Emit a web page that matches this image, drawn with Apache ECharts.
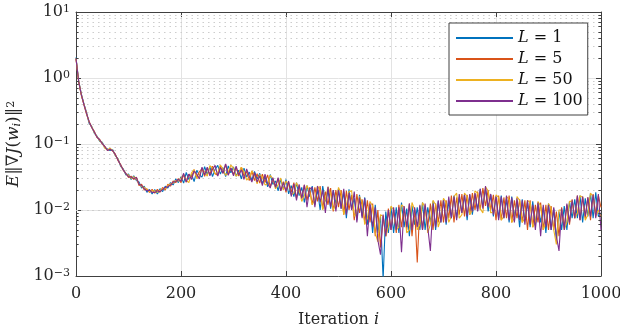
<!DOCTYPE html>
<html>
<head>
<meta charset="utf-8">
<script src="https://cdn.jsdelivr.net/npm/echarts@6/dist/echarts.min.js"></script>
<style>
  html, body { margin: 0; padding: 0; background: #fff; }
  #chart { width: 620px; height: 328px; }
</style>
</head>
<body>
<div id="chart"></div>
<script>
// sample positions: every 5th iteration, 0..1000
const iterations = Array.from({ length: 201 }, (_, k) => k * 5);

// E||grad J(w_i)||^2, in units of 1e-3
const L1 = [
  2050, 920, 580, 410, 300, 205, 185, 145, 132, 110,
  106, 88, 84, 80, 82, 66, 60, 46, 42, 34,
  35, 29, 33, 28, 26.5, 21.5, 23, 18.5, 20.5, 17.5,
  20.5, 17.5, 21, 19, 23, 21.5, 26, 24, 29.5, 26,
  32, 25.5, 37, 29, 34.5, 27, 40, 34, 31.5, 45.5,
  34.5, 45, 32, 41.5, 47.5, 35, 44, 32, 46.5, 36.5,
  45, 32.5, 40, 29.5, 43, 31.5, 37.5, 28, 38.5, 29.5,
  36, 25, 32, 22.5, 34.5, 24.5, 27.5, 19.5, 29.5, 20.5,
  29, 17.5, 23.5, 16, 26, 16.5, 22, 13, 23.5, 16,
  23, 12, 20.5, 10, 23, 13.5, 20, 10.5, 20, 12.5,
  21, 10.5, 19, 7.5, 20.5, 10.5, 15, 7, 17, 8,
  15.5, 6, 12, 4.5, 12, 4.5, 8, 0.9, 9.5, 4.5,
  11, 4.5, 11, 4.5, 13, 5.5, 10.5, 4, 11.5, 6,
  11, 5, 13, 5, 11, 6.5, 13.5, 5, 13.5, 6.5,
  14.5, 6, 13.5, 7.5, 16.5, 7.5, 15.5, 9, 17, 7,
  17, 8.5, 17.5, 10, 21, 11, 21, 9.5, 17, 8,
  16, 7.5, 16.5, 7.5, 14.5, 6.5, 16, 8, 14, 5.5,
  14.5, 7, 13, 5.5, 13.5, 6, 12.5, 6.5, 11, 4.5,
  12.5, 5, 10.5, 3.5, 9.5, 5, 11.5, 5, 13.5, 7.5,
  14.5, 7.5, 16.5, 6.5, 15, 8, 18, 7.5, 18.5, 8,
  9
];
const L5 = [
  1950, 880, 550, 395, 285, 220, 176, 155, 125, 118,
  100, 92, 80, 84, 78, 70, 56, 49, 40, 36,
  31, 32.5, 29, 31.5, 23.5, 24.5, 20, 21, 18.5, 20.5,
  18, 20.5, 18.5, 22, 20, 24.5, 23, 27.5, 26, 30,
  26, 34.5, 26.5, 35, 31.5, 41, 31, 38, 42.5, 32.5,
  43, 34.5, 46, 35.5, 33.5, 46, 36, 49, 34, 43.5,
  34.5, 44.5, 32.5, 44.5, 32.5, 38.5, 28, 39, 28, 35.5,
  25.5, 35, 26, 34, 22.5, 29.5, 23, 30, 19.5, 27,
  18.5, 26.5, 18.5, 26, 15, 23.5, 15, 24, 14, 22,
  12, 22, 13.5, 23, 10.5, 19, 12, 21.5, 9.5, 20,
  11, 20, 8.5, 19.5, 10, 17, 7, 17.5, 9, 14.5,
  6.5, 14, 6.5, 12.5, 4, 10, 2.7, 8, 4, 10.5,
  5, 10, 4.5, 12, 5.5, 11, 5, 12.5, 4, 10.5,
  1.6, 11.5, 5, 11.5, 5.5, 12.5, 5, 12.5, 6.5, 14,
  6.5, 14, 7.5, 16.5, 6.5, 15.5, 8.5, 17.5, 8, 17,
  8.5, 18, 10, 19, 10, 21.5, 11.5, 20, 10, 17,
  7, 16.5, 7, 15.5, 7.5, 16.5, 6.5, 14, 7.5, 14.5,
  6.5, 14, 5, 14, 5.5, 12, 6.5, 13, 5, 12,
  5, 11.5, 5, 9.5, 4, 11, 5.5, 12, 6, 14.5,
  7.5, 16.5, 7, 16, 7.5, 15.5, 7, 17.5, 8.5, 16.5,
  11
];
const L50 = [
  2000, 910, 570, 405, 295, 212, 182, 148, 130, 112,
  104, 86, 82, 86, 80, 67, 59, 47, 41, 35,
  34, 30, 32, 29.5, 25, 22.5, 22, 20.5, 19, 19.5,
  19.5, 18.5, 20, 21, 21, 23.5, 25, 25.5, 28, 27.5,
  30.5, 34.5, 28, 26, 36.5, 41, 30, 33, 42.5, 38,
  32.5, 47, 43, 35, 36.5, 48, 42, 33.5, 37.5, 48,
  43, 32.5, 36, 44.5, 38, 28.5, 30.5, 39, 33.5, 25,
  34.5, 31, 24, 25, 33.5, 29.5, 21, 24, 30.5, 20,
  27.5, 24, 17, 18, 26, 20.5, 13.5, 16.5, 23.5, 19,
  12, 14.5, 23, 20, 10, 14.5, 22.5, 17.5, 10, 12.5,
  22, 18, 8.5, 12, 19, 19.5, 8, 9, 16, 13,
  6, 7.5, 13.5, 11.5, 4.5, 3.3, 8.5, 8, 4, 5.5,
  11.5, 10, 5, 5.5, 12, 11, 4.5, 5, 13, 10,
  5, 6, 13, 11, 4.5, 6, 14, 12, 5.5, 7.5,
  15, 13, 6.5, 8, 16, 18, 7.5, 8.5, 18, 16,
  8.5, 10, 19.5, 18, 10.5, 9, 22.5, 19.5, 9, 9.5,
  17, 15.5, 7, 8, 16, 14.5, 6.5, 7.5, 16, 14,
  6.5, 7.5, 14, 13, 5.5, 6.5, 13.5, 11.5, 5, 6.5,
  12.5, 10.5, 5, 3, 10, 10, 5, 6.5, 13.5, 13.5,
  7.5, 9, 16.5, 15.5, 7, 8.5, 18, 16, 8, 10,
  8
];
const L100 = [
  1980, 895, 565, 400, 292, 218, 178, 152, 127, 116,
  101, 91, 80, 83, 79, 69, 57, 48, 40.5, 35.5,
  32, 31.5, 30, 31, 24.5, 23.5, 21, 19.5, 20, 18.5,
  18.5, 19.5, 19, 20.5, 22, 22.5, 24, 26.5, 27, 29,
  27.5, 36, 26.5, 35, 29, 39, 35, 29.5, 44.5, 34,
  44.5, 33, 41, 47.5, 32.5, 44, 36, 50, 33.5, 43.5,
  33, 46, 34, 40.5, 29, 42, 32.5, 26.5, 37, 26.5,
  33, 23.5, 35, 25, 21.5, 31, 22, 31, 19.5, 26,
  19.5, 27.5, 16, 25, 14, 24.5, 15, 24, 11, 21,
  22, 11, 23, 13, 20, 9, 22.5, 11, 20, 9.5,
  20, 10.5, 21, 8.5, 18, 10, 19, 6.5, 15.5, 7.5,
  15, 4, 12.5, 5.5, 11, 3.5, 2.1, 8.5, 4, 10,
  5, 11, 5, 11, 2.3, 11.5, 5.5, 12.5, 5, 11,
  5.5, 12, 5, 12.5, 5.5, 2.4, 12.5, 5.5, 14, 6.5,
  14, 6.5, 16, 7.5, 16, 7, 17.5, 9, 17, 8,
  17.5, 9.5, 18, 9.5, 21, 10.5, 23, 11, 17.5, 8.5,
  16, 7, 16, 7.5, 16.5, 7, 15.5, 6.5, 15, 7,
  14, 6, 14, 6, 12, 5, 13, 4, 12, 5.5,
  12, 5, 11, 4, 2.4, 10.5, 5, 12.5, 6.5, 14,
  7.5, 16.5, 7, 16, 8, 15.5, 8, 17, 7.5, 17.5,
  5
];
const valueUnit = 1e-3;

const seriesNames = ['L = 1', 'L = 5', 'L = 50', 'L = 100'];
const seriesValues = [L1, L5, L50, L100];
const colors = ['#0072BD', '#D95319', '#EDB120', '#7E2F8E'];

// tick positions
const decades = [1e-3, 1e-2, 1e-1, 1];
const minorLevels = decades.flatMap(d => [2, 3, 4, 5, 6, 7, 8, 9].map(m => m * d));

const FONT = 'DejaVu Serif';
const axisColor = '#404040';
const textColor = '#262626';

const chart = echarts.init(document.getElementById('chart'), null, { renderer: 'canvas' });

const lineSeries = seriesNames.map((name, s) => ({
  name,
  type: 'line',
  xAxisIndex: 0,
  yAxisIndex: 0,
  data: iterations.map((it, k) => [it, seriesValues[s][k] * valueUnit]),
  symbol: 'none',
  showSymbol: false,
  color: colors[s],
  lineStyle: { width: 1.1, color: colors[s] },
  emphasis: { disabled: true },
  animation: false,
  z: 3
}));

// dotted minor grid lines, drawn through the y axis with markLine
const gridHelper = {
  name: 'minor',
  type: 'line',
  data: [],
  z: 1,
  silent: true,
  animation: false,
  markLine: {
    z: 1,
    silent: true,
    symbol: 'none',
    animation: false,
    label: { show: false },
    lineStyle: { color: '#cdcdcd', type: [1.5, 4], width: 1 },
    data: minorLevels.map(v => ({ yAxis: v }))
  }
};
// small inward minor ticks on the left and right frame
const tickHelper = {
  name: 'minorTicks',
  type: 'line',
  data: [],
  z: 4,
  silent: true,
  animation: false,
  markLine: {
    z: 4,
    silent: true,
    symbol: 'none',
    animation: false,
    label: { show: false },
    lineStyle: { color: axisColor, type: 'solid', width: 1 },
    data: minorLevels.flatMap(v => [
      [{ coord: [0, v] }, { coord: [5, v] }],
      [{ coord: [995, v] }, { coord: [1000, v] }]
    ])
  }
};

const yLabel = v => {
  const e = Math.round(Math.log10(v));
  return '{b|10}{s|' + (e < 0 ? '\u2212' + (-e) : e) + '}';
};

const option = {
  animation: false,
  textStyle: { fontFamily: FONT },
  grid: { left: 76, right: 19, top: 12, bottom: 52, containLabel: false, outerBoundsMode: 'none' },
  legend: {
    z: 10,
    data: seriesNames,
    orient: 'vertical',
    left: 449,
    top: 23,
    padding: [6, 5, 5, 7],
    icon: 'rect',
    itemWidth: 57,
    itemHeight: 2,
    itemGap: 3,
    backgroundColor: '#fff',
    borderColor: axisColor,
    borderWidth: 1,
    borderRadius: 0,
    selectedMode: false,
    formatter: name => '{i|L}{n|' + name.slice(1) + '}',
    textStyle: {
      lineHeight: 18,
      rich: {
        i: { fontFamily: FONT, fontStyle: 'italic', fontSize: 16, color: '#111', lineHeight: 18 },
        n: { fontFamily: FONT, fontSize: 16, color: '#111', lineHeight: 18 }
      }
    }
  },
  xAxis: [
    {
      type: 'value',
      min: 0, max: 1000, interval: 200,
      position: 'bottom',
      name: '{n|Iteration }{i|i}',
      nameLocation: 'middle',
      nameGap: 36,
      nameTextStyle: {
        rich: {
          n: { fontFamily: FONT, fontSize: 16, color: textColor },
          i: { fontFamily: FONT, fontStyle: 'italic', fontSize: 16, color: textColor }
        }
      },
      axisLine: { show: true, lineStyle: { color: axisColor, width: 1 } },
      axisTick: { show: true, inside: true, length: 5, lineStyle: { color: axisColor } },
      axisLabel: { fontFamily: FONT, fontSize: 16, color: textColor, margin: 10, formatter: v => String(v) },
      splitLine: { show: true, lineStyle: { color: '#e3e3e3', width: 1 } }
    },
    {
      type: 'value',
      min: 0, max: 1000, interval: 200,
      position: 'top',
      axisLine: { show: true, onZero: false, lineStyle: { color: axisColor, width: 1 } },
      axisTick: { show: true, inside: true, length: 5, lineStyle: { color: axisColor } },
      axisLabel: { show: false },
      splitLine: { show: false }
    }
  ],
  yAxis: [
    {
      type: 'log',
      logBase: 10,
      min: 1e-3, max: 10,
      position: 'left',
      name: '{i|E}{n|\u2016\u2207}{i|J}{n|(}{i|w}{sub|i}{n|)\u2016}{sup|2}',
      nameLocation: 'middle',
      nameGap: 50,
      nameTextStyle: {
        rich: {
          i: { fontFamily: FONT, fontStyle: 'italic', fontSize: 17, color: textColor },
          n: { fontFamily: FONT, fontSize: 17, color: textColor },
          sub: { fontFamily: FONT, fontStyle: 'italic', fontSize: 11, color: textColor, verticalAlign: 'bottom' },
          sup: { fontFamily: FONT, fontSize: 11, color: textColor, verticalAlign: 'top' }
        }
      },
      axisLine: { show: true, onZero: false, lineStyle: { color: axisColor, width: 1 } },
      axisTick: { show: true, inside: true, length: 5, lineStyle: { color: axisColor } },
      axisLabel: {
        formatter: yLabel,
        margin: 6,
        rich: {
          b: { fontFamily: FONT, fontSize: 16, color: textColor },
          s: { fontFamily: FONT, fontSize: 11, color: textColor, verticalAlign: 'top' }
        }
      },
      splitLine: { show: true, lineStyle: { color: '#e3e3e3', width: 1 } }
    },
    {
      type: 'log',
      logBase: 10,
      min: 1e-3, max: 10,
      position: 'right',
      axisLine: { show: true, onZero: false, lineStyle: { color: axisColor, width: 1 } },
      axisTick: { show: true, inside: true, length: 5, lineStyle: { color: axisColor } },
      axisLabel: { show: false },
      splitLine: { show: false }
    }
  ],
  series: [gridHelper, ...lineSeries, tickHelper]
};

chart.setOption(option);
</script>
</body>
</html>
